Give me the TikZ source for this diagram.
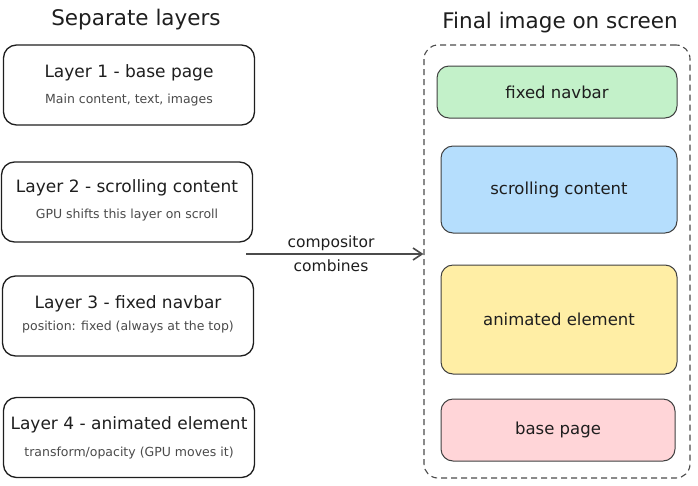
\documentclass[tikz,border=0pt]{standalone}
\usepackage{fontspec}
\setmainfont{DejaVu Sans}
\usetikzlibrary{arrows.meta,calc,positioning}
\definecolor{InkGrey}{HTML}{1E1E1E}
\definecolor{NavGreen}{HTML}{C3F1C9}
\definecolor{ScrollBlue}{HTML}{B5DEFD}
\definecolor{AnimYellow}{HTML}{FFEEA5}
\definecolor{BasePink}{HTML}{FFD5D8}
\definecolor{SubGrey}{HTML}{4A4A4A}

\begin{document}
\begin{tikzpicture}[x=1pt,y=-1pt,
    layer/.style={draw=InkGrey,line width=1.3pt,rounded corners=13pt,
                  minimum width=251pt,minimum height=80pt},
    tile/.style={draw=InkGrey!85,line width=1pt,rounded corners=12pt,
                 minimum width=236pt,font=\fontsize{16.5}{19}\selectfont,text=InkGrey},
    head/.style={font=\fontsize{21.5}{25}\selectfont,text=InkGrey},
    ttl/.style={font=\fontsize{17}{20}\selectfont,text=InkGrey},
    sub/.style={font=\fontsize{12.5}{15}\selectfont,text=SubGrey},
    arr/.style={-{Straight Barb[length=9pt,width=12pt]},line width=1.6pt,InkGrey!80}]
    \useasboundingbox (0,0) rectangle (698,485);

    % left column
    \node[head] (lefthead) at (136,20) {Separate layers};
    \node[layer] (l1) at (129,85) {};
    \node[layer] (l2) at (127,202) {};
    \node[layer] (l3) at (128,316) {};
    \node[layer] (l4) at (129,437.5) {};
    \node[ttl] (l1t) at (129,73) {Layer 1 - base page};
    \node[sub] (l1s) at (129,100) {Main content, text, images};
    \node[ttl] (l2t) at (127,188) {Layer 2 - scrolling content};
    \node[sub] (l2s) at (127,215) {GPU shifts this layer on scroll};
    \node[ttl] (l3t) at (128,304) {Layer 3 - fixed navbar};
    \node[sub] (l3s) at (128,327) {position: fixed (always at the top)};
    \node[ttl] (l4t) at (129,425) {Layer 4 - animated element};
    \node[sub] (l4s) at (129,453) {transform/opacity (GPU moves it)};

    % right column
    \node[head] (righthead) at (560,23) {Final image on screen};
    \node[draw=InkGrey!80,dashed,line width=1.1pt,dash pattern=on 6pt off 4pt,
          rounded corners=14pt,minimum width=266pt,minimum height=433pt] (frame) at (557,261.5) {};
    \node[tile,fill=NavGreen,minimum width=240pt,minimum height=52pt] (nav) at (557,92) {fixed navbar};
    \node[tile,fill=ScrollBlue,minimum height=87pt] (scroll) at (559,189.5) {scrolling content};
    \node[tile,fill=AnimYellow,minimum height=109pt] (anim) at (559,319.5) {animated element};
    \node[tile,fill=BasePink,minimum width=234pt,minimum height=62pt] (base) at (558,430) {base page};

    % compositor arrow
    \coordinate (src) at (246,254);
    \draw[arr] (src) -- (src -| frame.west);
    \node[ttl,font=\fontsize{15.5}{18}\selectfont] (comp) at (331,243) {compositor};
    \node[ttl,font=\fontsize{15.5}{18}\selectfont] (comb) at (331,266) {combines};
  \end{tikzpicture}
\end{document}
